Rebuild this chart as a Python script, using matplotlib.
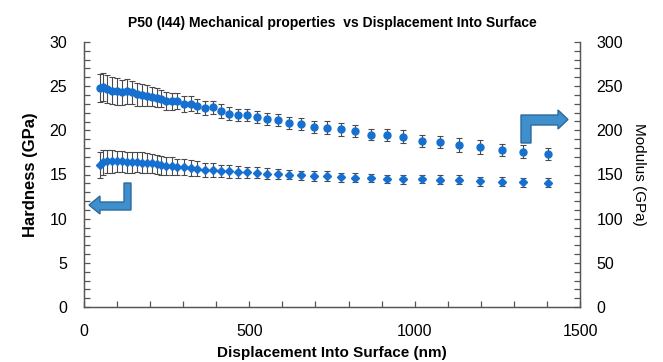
import matplotlib
matplotlib.use("Agg")
import matplotlib.pyplot as plt
from matplotlib.patches import Polygon
from matplotlib.ticker import MultipleLocator

plt.rcParams['font.family'] = ['Liberation Sans', 'DejaVu Sans']

# displacement (nm)
depth = [48, 57, 70, 85, 100, 115, 130, 145, 160, 175, 190, 206, 221, 232, 248,
         266, 281, 302, 324, 342, 366, 390, 414, 438, 466, 493, 523, 553, 587,
         620, 656, 695, 735, 777, 820, 868, 916, 965, 1022, 1076, 1134, 1197,
         1264, 1327, 1403]

# modulus (GPa), right axis
modulus = [248, 249, 247, 245, 244, 243, 244, 243, 241, 240, 239, 238, 237, 236,
           233, 233, 233, 230, 230, 228, 225, 226, 222, 219, 217, 217, 215, 213,
           212, 208, 207, 204, 203, 201, 199, 195, 195, 193, 188, 187, 183, 181,
           178, 176, 173]
modulus_err = [16, 16, 16, 15, 15, 14, 14, 13, 13, 12, 12, 11, 11, 10, 10,
               9.5, 9, 9, 8.5, 8, 8, 7.5, 7.5, 7.5, 7, 7, 7, 7, 7,
               7, 7, 7, 7, 7, 6.5, 6.5, 7, 7, 7, 7, 8, 8, 7, 7, 7]

# hardness (GPa), left axis
hardness = [16.1, 16.4, 16.5, 16.5, 16.5, 16.5, 16.4, 16.4, 16.4, 16.35, 16.3,
            16.25, 16.15, 16.05, 16.0, 15.95, 15.85, 15.8, 15.75, 15.65, 15.55,
            15.5, 15.4, 15.35, 15.3, 15.25, 15.2, 15.1, 15.05, 15.0, 14.9, 14.85,
            14.8, 14.7, 14.65, 14.6, 14.5, 14.45, 14.5, 14.4, 14.4, 14.25, 14.2,
            14.1, 14.05]
hardness_err = [1.5, 1.4, 1.3, 1.3, 1.2, 1.2, 1.2, 1.2, 1.15, 1.15, 1.1, 1.1,
                1.1, 1.05, 1.0, 1.0, 0.95, 0.9, 0.9, 0.85, 0.8, 0.75, 0.7, 0.7,
                0.65, 0.65, 0.6, 0.6, 0.6, 0.55, 0.55, 0.55, 0.55, 0.5, 0.5, 0.5,
                0.5, 0.5, 0.5, 0.5, 0.5, 0.5, 0.5, 0.5, 0.5]

W, H = 663, 362
fig = plt.figure(figsize=(W / 100, H / 100), dpi=100)
ax = fig.add_axes([84 / W, 1 - 307 / H, (580 - 84) / W, (307 - 42) / H])
ax2 = ax.twinx()

blue = '#1570D0'
errc = '#4a4a4a'

ax.errorbar(depth, hardness, yerr=hardness_err, fmt='D', ms=4, color=blue,
            ecolor=errc, elinewidth=0.8, capsize=2, capthick=0.8, zorder=3)
ax2.errorbar(depth, modulus, yerr=modulus_err, fmt='o', ms=5, color=blue,
             ecolor=errc, elinewidth=0.8, capsize=2, capthick=0.8, zorder=3)

ax.set_xlim(0, 1500)
ax.set_ylim(0, 30)
ax2.set_ylim(0, 300)

ax.xaxis.set_major_locator(MultipleLocator(500))
ax.xaxis.set_minor_locator(MultipleLocator(100))
ax.yaxis.set_major_locator(MultipleLocator(5))
ax.yaxis.set_minor_locator(MultipleLocator(1))
ax2.yaxis.set_major_locator(MultipleLocator(50))
ax2.yaxis.set_minor_locator(MultipleLocator(10))

for a in (ax, ax2):
    a.spines['top'].set_visible(False)
    for s in a.spines.values():
        s.set_color('#555555')
        s.set_linewidth(0.9)
    a.tick_params(which='both', direction='in', color='#555555', width=0.9)
    a.tick_params(which='major', length=4, labelsize=11.5, pad=12)
    a.tick_params(which='minor', length=4)

ax.set_title('P50 (I44) Mechanical properties  vs Displacement Into Surface',
             fontsize=10, fontweight='bold', pad=11)
ax.set_xlabel('Displacement Into Surface (nm)', fontsize=11, fontweight='bold', labelpad=5)
ax.set_ylabel('Hardness (GPa)', fontsize=12, fontweight='bold', labelpad=8)
ax2.set_ylabel('Modulus (GPa)', fontsize=11, rotation=270, labelpad=16)


def px(points):
    return [(x / W, 1 - y / H) for x, y in points]


left_arrow = [(124, 183), (131, 183), (131, 210), (100, 210), (100, 214),
              (89, 205), (100, 196), (100, 202), (124, 202)]
right_arrow = [(521, 143), (521, 115), (558, 115), (558, 110), (568, 119.5),
               (558, 129), (558, 125), (531, 125), (531, 143)]
for shape in (left_arrow, right_arrow):
    fig.patches.append(Polygon(px(shape), closed=True, transform=fig.transFigure,
                               facecolor='#3E8FCC', edgecolor='#2C6A9C', lw=1, zorder=5))

fig.savefig('out.png', dpi=100)
